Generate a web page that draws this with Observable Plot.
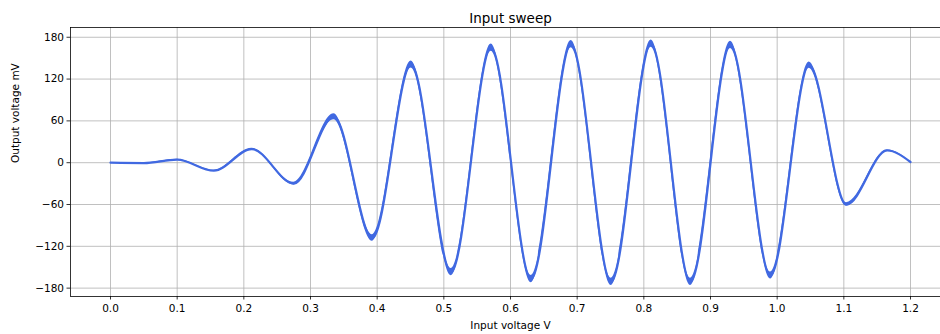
<!DOCTYPE html>
<html>
<head>
<meta charset="utf-8">
<script src="https://cdn.jsdelivr.net/npm/d3@7"></script>
<script src="https://cdn.jsdelivr.net/npm/@observablehq/plot@0.6"></script>
<style>
  html, body { margin: 0; padding: 0; background: #fff; }
  svg { display: block; }
</style>
</head>
<body>
<div id="chart"></div>
<script>
// Turning points of the sweep (input V, output mV)
const sweepV   = [0.000, 0.050, 0.100, 0.155, 0.212, 0.275, 0.335, 0.393, 0.451, 0.511, 0.571, 0.631, 0.691, 0.751, 0.811, 0.870, 0.930, 0.990, 1.048, 1.104, 1.165, 1.200];
const outputMV = [0, -0.5, 4.5, -11.5, 19.5, -30, 66, -108, 141, -157, 165, -167, 170, -171, 171, -171, 169, -162, 140, -60, 17.5, 1];
// half-thickness of the fine ripple band around the curve (mV)
const rippleMV = [0.2, 0.3, 0.5, 0.8, 1.1, 1.9, 4.2, 4.6, 5, 5.2, 5.2, 5.2, 5.2, 5.2, 5.2, 5.2, 5.2, 5, 4.6, 2.6, 1, 0.3];

const xTicks = [0.0, 0.1, 0.2, 0.3, 0.4, 0.5, 0.6, 0.7, 0.8, 0.9, 1.0, 1.1, 1.2];
const yTicks = [-180, -120, -60, 0, 60, 120, 180];

const titleText = "Input sweep";
const xLabel = "Input voltage V";
const yLabel = "Output voltage mV";

const table = sweepV.map((v, i) => ({
  v, mv: outputMV[i], lo: outputMV[i] - rippleMV[i], hi: outputMV[i] + rippleMV[i]
}));

const blue = "#4169e1";
const grid = {stroke: "#b0b0b0", strokeOpacity: 1, strokeWidth: 0.8};

const chart = Plot.plot({
  width: 940,
  height: 334,
  marginLeft: 70,
  marginRight: 0,
  marginTop: 27,
  marginBottom: 38,
  x: {domain: [-0.06, 1.245]},
  y: {domain: [-192, 194]},
  style: {fontFamily: "'DejaVu Sans', sans-serif", fontSize: "10px", color: "#000", background: "#fff", overflow: "visible"},
  marks: [
    Plot.gridX(xTicks, grid),
    Plot.gridY(yTicks, grid),
    Plot.areaY(table, {x: "v", y1: "lo", y2: "hi", curve: "monotone-x", fill: blue}),
    Plot.line(table, {x: "v", y: "mv", curve: "monotone-x", stroke: blue, strokeWidth: 2.2}),
    Plot.axisX(xTicks, {tickFormat: d => d.toFixed(1), tickSize: 3.5, tickPadding: 5, label: null, stroke: "#000", strokeWidth: 0.8, fontSize: 10.5}),
    Plot.axisY(yTicks, {tickFormat: d => d < 0 ? "\u2212" + Math.abs(d) : String(d), tickSize: 3.5, tickPadding: 3, label: null, stroke: "#000", strokeWidth: 0.8, fontSize: 10.5}),
    Plot.ruleX([-0.06], {stroke: "#000", strokeWidth: 0.8}),
    Plot.ruleY([194, -192], {stroke: "#000", strokeWidth: 0.8}),
    Plot.text([titleText], {frameAnchor: "top", dx: 5, dy: -14, fontSize: 13.5}),
    Plot.text([xLabel], {frameAnchor: "bottom", dx: 5, dy: 32, fontSize: 10.5}),
    Plot.text([yLabel], {frameAnchor: "left", dx: -55, dy: 1, rotate: -90, fontSize: 10.5})
  ]
});
document.getElementById("chart").appendChild(chart);
</script>
</body>
</html>
